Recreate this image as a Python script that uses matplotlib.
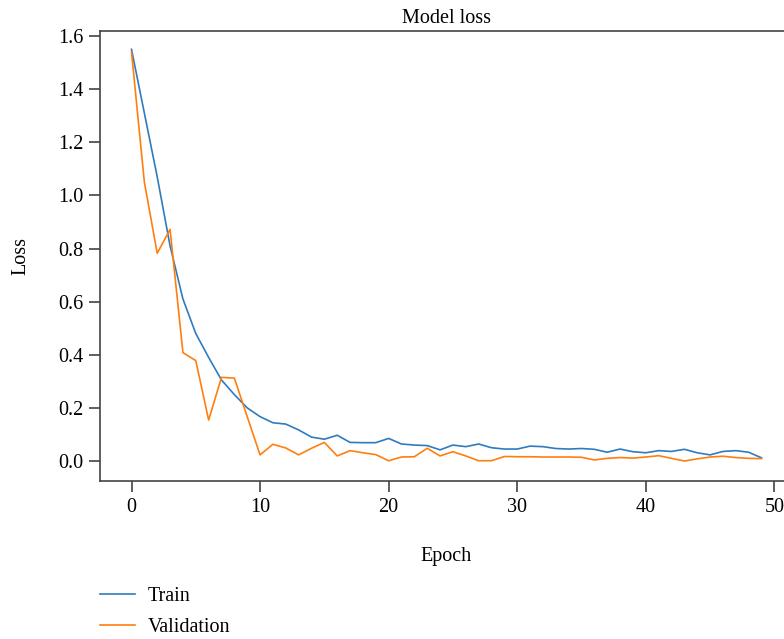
import matplotlib
matplotlib.use("Agg")
import matplotlib.pyplot as plt
import numpy as np

epochs = list(range(50))
train_loss = [1.55, 1.31, 1.07, 0.81, 0.61, 0.48, 0.39, 0.305, 0.25, 0.20,
              0.167, 0.144, 0.139, 0.117, 0.09, 0.082, 0.097, 0.07, 0.069, 0.069,
              0.085, 0.064, 0.06, 0.058, 0.042, 0.06, 0.054, 0.064, 0.05, 0.045,
              0.045, 0.056, 0.054, 0.047, 0.045, 0.047, 0.044, 0.033, 0.045, 0.035,
              0.031, 0.039, 0.036, 0.044, 0.031, 0.023, 0.036, 0.039, 0.033, 0.012]
val_loss = [1.54, 1.05, 0.782, 0.872, 0.408, 0.378, 0.154, 0.315, 0.312, 0.167,
            0.023, 0.063, 0.049, 0.023, 0.048, 0.07, 0.019, 0.039, 0.031, 0.024,
            0.001, 0.015, 0.016, 0.048, 0.019, 0.035, 0.019, 0.001, 0.001, 0.017,
            0.016, 0.016, 0.015, 0.015, 0.015, 0.014, 0.004, 0.01, 0.013, 0.011,
            0.015, 0.02, 0.01, 0.0, 0.008, 0.015, 0.018, 0.013, 0.01, 0.009]
x_ticks = [0, 10, 20, 30, 40, 50]
y_ticks = [0.0, 0.2, 0.4, 0.6, 0.8, 1.0, 1.2, 1.4, 1.6]

plt.rcParams['font.family'] = ['Liberation Serif', 'DejaVu Serif']
FS = 14.5

fig = plt.figure(figsize=(7.84, 6.39), dpi=100)
ax = fig.add_axes([100/784, 1 - 481/639, 693/784, 450/639])

ax.plot(epochs, train_loss, color='#2f7bbf', lw=1.2, label='Train')
ax.plot(epochs, val_loss, color='#ff7f0e', lw=1.2, label='Validation')

ax.set_xlim(-2.45, 51.45)
ax.set_ylim(-0.0753, 1.619)
ax.set_xticks(x_ticks)
ax.set_yticks(y_ticks)
ax.set_yticklabels([f"{v:.1f}" for v in y_ticks])

for s in ['top', 'left', 'bottom', 'right']:
    ax.spines[s].set_color('#444444')
    ax.spines[s].set_linewidth(1.2)
ax.tick_params(axis='both', labelsize=FS, color='#333333', length=8, width=1.1, pad=4)

ax.set_title('Model loss', fontsize=FS, pad=6)
ax.set_xlabel('Epoch', fontsize=FS, labelpad=22)
ax.set_ylabel('Loss', fontsize=FS, labelpad=20)

fig.legend(loc='upper left', bbox_to_anchor=(100/784, 1 - 587/639), frameon=False,
           fontsize=FS, handlelength=1.75, handletextpad=0.6, labelspacing=0.6,
           borderaxespad=0, borderpad=0)

fig.savefig('out.png', dpi=100)
